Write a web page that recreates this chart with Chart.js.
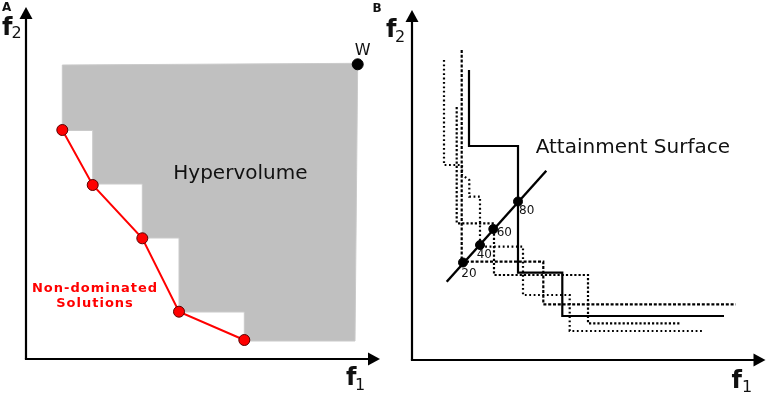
<!DOCTYPE html>
<html><head><meta charset="utf-8">
<script src="https://cdn.jsdelivr.net/npm/chart.js@4/dist/chart.umd.min.js"></script>
<style>
html,body{margin:0;padding:0;background:#fff;}
#wrap{position:relative;width:768px;height:394px;overflow:hidden;}
canvas{position:absolute;top:0;}
</style></head><body>
<div id="wrap"><canvas id="ca" width="384" height="394" style="left:0"></canvas><canvas id="cb" width="396" height="394" style="left:372px"></canvas></div>
<script>
// ---------- Panel A data (f1, f2 in axis units, origin at axes corner) ----------
const hvF1 = [36.3, 331.7, 329, 218.3, 218.3, 153, 153, 116.3, 116.3, 66.7, 66.7, 36.3, 36.3];
const hvF2 = [294, 295.7, 18, 18, 47, 47, 121, 121, 175, 175, 228.5, 228.5, 294];
const frontF1 = [36.3, 66.7, 116.3, 153, 218.3];
const frontF2 = [229, 174, 120.7, 47.3, 19];
const refF1 = [331.7];
const refF2 = [294.7];

// ---------- Panel B data ----------
const curveSolidF1 = [57, 57, 106, 106, 150.3, 150.3, 312];
const curveSolidF2 = [290, 214, 214, 87.3, 87.3, 44, 44];
const curveDashF1 = [49.7, 49.7, 131.3, 131.3, 323.7];
const curveDashF2 = [310, 98.3, 98.3, 55.7, 55.7];
const curveDotAF1 = [44.7, 44.7, 82, 82, 176, 176, 268.7];
const curveDotAF2 = [253, 136.7, 136.7, 85, 85, 36.7, 36.7];
const curveDotBF1 = [32, 32, 50, 50, 57.3, 57.3, 68, 68, 111, 111, 157.7, 157.7, 290.3];
const curveDotBF2 = [300, 195, 195, 185, 180, 163.3, 163.3, 113.3, 113.3, 65, 65, 29, 29];
const diagF1 = [34.7, 134.3];
const diagF2 = [78.3, 189.3];
const levelF1 = [51, 68, 81.3, 106];
const levelF2 = [97.5, 115, 131, 158.5];
const levelLabels = ['20', '40', '60', '80'];

function pts(xs, ys){ return xs.map((x,i)=>({x:x, y:ys[i]})); }
function P(chart, x, y){ return [chart.scales.x.getPixelForValue(x), chart.scales.y.getPixelForValue(y)]; }

function drawAxes(chart, tipY, tipX){
  const ctx = chart.ctx;
  const [ox, oy] = P(chart, 0, 0);
  const [, ty] = P(chart, 0, tipY);
  const [tx, ] = P(chart, tipX, 0);
  ctx.save();
  ctx.strokeStyle = '#000'; ctx.fillStyle = '#000'; ctx.lineWidth = 2.2;
  ctx.beginPath(); ctx.moveTo(ox, oy); ctx.lineTo(ox, ty + 10); ctx.stroke();
  ctx.beginPath(); ctx.moveTo(ox - 1.1, oy); ctx.lineTo(tx - 10, oy); ctx.stroke();
  ctx.beginPath(); ctx.moveTo(ox, ty); ctx.lineTo(ox - 6.5, ty + 12); ctx.lineTo(ox + 6.5, ty + 12); ctx.closePath(); ctx.fill();
  ctx.beginPath(); ctx.moveTo(tx, oy); ctx.lineTo(tx - 12, oy - 6.5); ctx.lineTo(tx - 12, oy + 6.5); ctx.closePath(); ctx.fill();
  ctx.restore();
}
function txt(chart, s, x, y, font, color, align, spacing){
  const ctx = chart.ctx;
  const [px, py] = P(chart, x, y);
  ctx.save();
  ctx.font = font; ctx.fillStyle = color || '#111';
  ctx.textAlign = align || 'left'; ctx.textBaseline = 'alphabetic';
  if (spacing) ctx.letterSpacing = spacing;
  ctx.fillText(s, px, py);
  ctx.restore();
}
const F = '"DejaVu Sans", sans-serif';

const baseOpts = (xmin, xmax, ymin, ymax) => ({
  responsive: false, animation: false,
  layout: {padding: 0, autoPadding: false},
  plugins: {legend: {display: false}, tooltip: {enabled: false}},
  scales: {
    x: {type: 'linear', display: false, min: xmin, max: xmax},
    y: {type: 'linear', display: false, min: ymin, max: ymax}
  }
});

// ---------- Chart A ----------
new Chart(document.getElementById('ca'), {
  type: 'scatter',
  data: {datasets: [
    {data: pts(hvF1, hvF2), showLine: true, fill: 'shape', backgroundColor: '#c0c0c0',
     borderColor: '#cacaca', borderWidth: 1, pointRadius: 0, order: 10},
    {data: pts(frontF1, frontF2), showLine: true, borderColor: '#ff0000', borderWidth: 2,
     pointRadius: 5.5, pointBackgroundColor: '#ff0000', pointBorderColor: '#5a0000', pointBorderWidth: 1, order: 2},
    {data: pts(refF1, refF2), showLine: false, pointRadius: 5.5, pointBackgroundColor: '#000', pointBorderColor: '#000', order: 1}
  ]},
  options: baseOpts(-26, 358, -35, 359),
  plugins: [{id: 'decorA', afterDatasetsDraw(chart){
    drawAxes(chart, 352, 354);
    txt(chart, 'Hypervolume', 147.3, 180, '20px ' + F, '#111');
    txt(chart, 'W', 336.7, 304, '16px ' + F, '#111', 'center');
    txt(chart, 'Non-dominated', 69, 67.3, 'bold 13px ' + F, '#ff0000', 'center', '1px');
    txt(chart, 'Solutions', 69, 52.3, 'bold 13px ' + F, '#ff0000', 'center', '1px');
    txt(chart, 'A', -24, 348.5, 'bold 12px ' + F, '#111');
    txt(chart, 'f', -24, 324, 'bold 24px ' + F, '#111');
    txt(chart, '2', -14.5, 321, '16px ' + F, '#111');
    txt(chart, 'f', 320, -26, 'bold 24px ' + F, '#111');
    txt(chart, '1', 329, -31, '16px ' + F, '#111');
  }}]
});

// ---------- Chart B ----------
const lvlData = pts(levelF1, levelF2);
new Chart(document.getElementById('cb'), {
  type: 'scatter',
  data: {datasets: [
    {data: pts(curveSolidF1, curveSolidF2), showLine: true, borderColor: '#000', borderWidth: 2.2, pointRadius: 0},
    {data: pts(curveDashF1, curveDashF2), showLine: true, borderColor: '#000', borderWidth: 2.2, borderDash: [3, 1.8], pointRadius: 0},
    {data: pts(curveDotAF1, curveDotAF2), showLine: true, borderColor: '#000', borderWidth: 2.2, borderDash: [2.2, 2], pointRadius: 0},
    {data: pts(curveDotBF1, curveDotBF2), showLine: true, borderColor: '#000', borderWidth: 2.2, borderDash: [1.8, 2.6], pointRadius: 0},
    {data: pts(diagF1, diagF2), showLine: true, borderColor: '#000', borderWidth: 2.4, pointRadius: 0},
    {data: lvlData, showLine: false, pointRadius: 4.5, pointBackgroundColor: '#000', pointBorderColor: '#000'}
  ]},
  options: baseOpts(-40, 356, -34, 360),
  plugins: [{id: 'decorB', afterDatasetsDraw(chart){
    drawAxes(chart, 350, 353.5);
    txt(chart, 'Attainment Surface', 123.7, 206.7, '20px ' + F, '#111');
    const offs = [[-1.7, -14.8], [-3.3, -13.3], [3.4, -7], [1, -12.5]];
    levelLabels.forEach((l, i) => txt(chart, l, levelF1[i] + offs[i][0], levelF2[i] + offs[i][1], '12px ' + F, '#111'));
    txt(chart, 'B', -39.5, 348.5, 'bold 12px ' + F, '#111');
    txt(chart, 'f', -26, 323.3, 'bold 24px ' + F, '#111');
    txt(chart, '2', -17, 318.3, '16px ' + F, '#111');
    txt(chart, 'f', 319.5, -28, 'bold 24px ' + F, '#111');
    txt(chart, '1', 330, -32, '16px ' + F, '#111');
  }}]
});
</script>
</body></html>
